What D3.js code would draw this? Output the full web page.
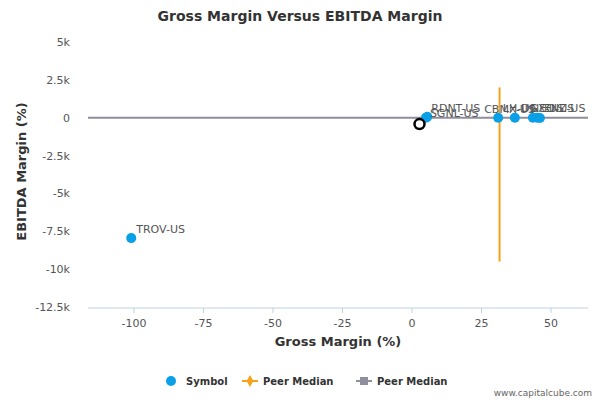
<!DOCTYPE html>
<html><head><meta charset="utf-8">
<script src="https://cdn.jsdelivr.net/npm/d3@7"></script>
<style>body{margin:0;background:#fff;font-family:"DejaVu Sans",sans-serif}</style>
</head><body>
<script>
// data
var symbols = ["TROV-US","SGNL-US","RDNT-US","CBMX-US","LH-US","DGX-US","NEO-US","ENZ-US"];
var grossMargin = [-101, 5, 5.5, 31, 37, 43.5, 45, 46];
var ebitdaMargin = [-7950, 0, 60, 0, 0, 0, 0, -20];
var labelDx = [5, 4, 4, -14, -12, -12, -6, 4];
var labelDy = [-5, -1, -5, -5, -6, -6, -6, -6];
var company = {x: 2.7, y: -420};
var peerX = 31.5, peerYRange = [2000, -9500], peerY = 0;
var xTicks = [-100, -75, -50, -25, 0, 25, 50];
var yTicks = [5000, 2500, 0, -2500, -5000, -7500, -10000, -12500];

var W = 600, H = 400;
var svg = d3.select("body").append("svg").attr("width", W).attr("height", H);
var x = d3.scaleLinear().domain([-100, 50]).range([134, 551]);
var y = d3.scaleLinear().domain([5000, -12500]).range([42, 307]);
var plotL = 88, plotR = 588, plotT = 35, plotB = 308;

svg.append("text").attr("x", W/2).attr("y", 21).attr("text-anchor", "middle")
	.style("font-size", "14px").style("font-weight", "bold").attr("fill", "#333")
	.text("Gross Margin Versus EBITDA Margin");

// axis lines
svg.append("line").attr("x1", plotL).attr("x2", plotR).attr("y1", plotB).attr("y2", plotB).attr("stroke", "#c0d0e0");
xTicks.forEach(function(t){
	svg.append("line").attr("x1", x(t)).attr("x2", x(t)).attr("y1", plotB).attr("y2", plotB+5).attr("stroke", "#c0d0e0");
	svg.append("text").attr("x", x(t)).attr("y", plotB+19).attr("text-anchor", "middle")
		.style("font-size", "11px").attr("fill", "#555").text(t);
});
var fmt = function(v){ return v === 0 ? "0" : (v/1000) + "k"; };
yTicks.forEach(function(t){
	svg.append("text").attr("x", 70).attr("y", y(t)+4).attr("text-anchor", "end")
		.style("font-size", "11px").attr("fill", "#555").text(fmt(t));
});
svg.append("text").attr("x", (plotL+plotR)/2).attr("y", 346).attr("text-anchor", "middle")
	.style("font-size", "13px").style("font-weight", "bold").attr("fill", "#333").text("Gross Margin (%)");
svg.append("text").attr("transform", "translate(26," + ((plotT+plotB)/2) + ") rotate(-90)").attr("text-anchor", "middle")
	.style("font-size", "13px").style("font-weight", "bold").attr("fill", "#333").text("EBITDA Margin (%)");

// median lines
svg.append("line").attr("x1", plotL).attr("x2", plotR).attr("y1", y(peerY)).attr("y2", y(peerY))
	.attr("stroke", "#8e8e9e").attr("stroke-width", 2);
svg.append("line").attr("x1", x(peerX)).attr("x2", x(peerX)).attr("y1", y(peerYRange[0])).attr("y2", y(peerYRange[1]))
	.attr("stroke", "#f7a21b").attr("stroke-width", 2);

// points
symbols.forEach(function(s, i){
	svg.append("circle").attr("cx", x(grossMargin[i])).attr("cy", y(ebitdaMargin[i])).attr("r", 5).attr("fill", "#0aa0e8");
});
symbols.forEach(function(s, i){
	svg.append("text").attr("x", x(grossMargin[i]) + labelDx[i]).attr("y", y(ebitdaMargin[i]) + labelDy[i])
		.style("font-size", "11px").attr("fill", "#555").text(s);
});
svg.append("circle").attr("cx", x(company.x)).attr("cy", y(company.y)).attr("r", 5)
	.attr("fill", "#fff").attr("stroke", "#000").attr("stroke-width", 2.5);

// legend
var lg = svg.append("g").style("font-size", "10px").style("font-weight", "bold").attr("fill", "#333");
lg.append("circle").attr("cx", 171).attr("cy", 381).attr("r", 5).attr("fill", "#0aa0e8");
lg.append("text").attr("x", 186).attr("y", 385).text("Symbol");
lg.append("line").attr("x1", 242).attr("x2", 258).attr("y1", 381).attr("y2", 381).attr("stroke", "#f7a21b").attr("stroke-width", 2);
lg.append("path").attr("d", d3.symbol(d3.symbolDiamond, 40)()).attr("transform", "translate(250,381)").attr("fill", "#f7a21b");
lg.append("text").attr("x", 263).attr("y", 385).text("Peer Median");
lg.append("line").attr("x1", 356).attr("x2", 372).attr("y1", 381).attr("y2", 381).attr("stroke", "#8e8e9e").attr("stroke-width", 2);
lg.append("rect").attr("x", 360).attr("y", 377).attr("width", 8).attr("height", 8).attr("fill", "#8e8e9e");
lg.append("text").attr("x", 377).attr("y", 385).text("Peer Median");

svg.append("text").attr("x", 592).attr("y", 396).attr("text-anchor", "end")
	.style("font-size", "9px").attr("fill", "#666").text("www.capitalcube.com");
</script>
</body></html>
